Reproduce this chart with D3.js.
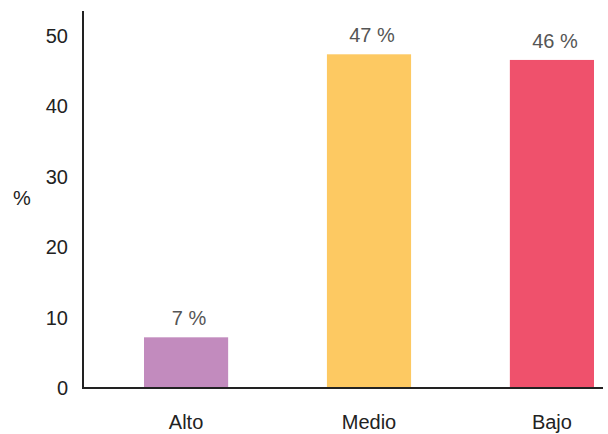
<!DOCTYPE html>
<html>
<head>
<meta charset="utf-8">
<script src="https://cdn.jsdelivr.net/npm/d3@7"></script>
<style>
  body { margin: 0; background: #fff; }
  text { font-family: "Liberation Sans", Arial, sans-serif; }
</style>
</head>
<body>
<div id="chart"></div>
<script>
const categories = ["Alto", "Medio", "Bajo"];
const values = [7.2, 47.4, 46.6];
const valueLabels = ["7 %", "47 %", "46 %"];
const colors = ["#c28bbe", "#fdc962", "#ef516c"];
const yTicks = [0, 10, 20, 30, 40, 50];

const width = 608, height = 434;

const svg = d3.select("#chart").append("svg")
    .attr("width", width)
    .attr("height", height);

const y = d3.scaleLinear().domain([0, 50]).range([388, 36]);
const x = d3.scaleBand().domain(categories)
    .range([144, 594])
    .paddingInner(0.54)
    .paddingOuter(0);

// y axis
const yAxis = svg.append("g")
    .attr("transform", "translate(83,0)")
    .call(d3.axisLeft(y).tickValues(yTicks).tickSize(0).tickPadding(15));
yAxis.select(".domain").remove();
yAxis.selectAll("text")
    .attr("font-size", 20)
    .attr("fill", "#222");

svg.append("line")
    .attr("x1", 83).attr("x2", 83)
    .attr("y1", 11).attr("y2", y(0) + 1)
    .attr("stroke", "#222").attr("stroke-width", 2);

svg.append("text")
    .attr("x", 22).attr("y", 205)
    .attr("text-anchor", "middle")
    .attr("font-size", 20)
    .attr("fill", "#222")
    .text("%");

// bars
svg.selectAll(".bar").data(values).enter().append("rect")
    .attr("class", "bar")
    .attr("x", (d, i) => x(categories[i]))
    .attr("y", d => y(d))
    .attr("width", x.bandwidth())
    .attr("height", d => y(0) - y(d))
    .attr("fill", (d, i) => colors[i]);

svg.selectAll(".vlabel").data(values).enter().append("text")
    .attr("class", "vlabel")
    .attr("x", (d, i) => x(categories[i]) + x.bandwidth() / 2 + 3)
    .attr("y", d => y(d) - 12)
    .attr("text-anchor", "middle")
    .attr("font-size", 20)
    .attr("fill", "#555")
    .text((d, i) => valueLabels[i]);

// x axis
svg.append("line")
    .attr("x1", 82).attr("x2", 603)
    .attr("y1", y(0)).attr("y2", y(0))
    .attr("stroke", "#222").attr("stroke-width", 2);

svg.selectAll(".xlabel").data(categories).enter().append("text")
    .attr("class", "xlabel")
    .attr("x", d => x(d) + x.bandwidth() / 2)
    .attr("y", 429)
    .attr("text-anchor", "middle")
    .attr("font-size", 20)
    .attr("fill", "#222")
    .text(d => d);
</script>
</body>
</html>
